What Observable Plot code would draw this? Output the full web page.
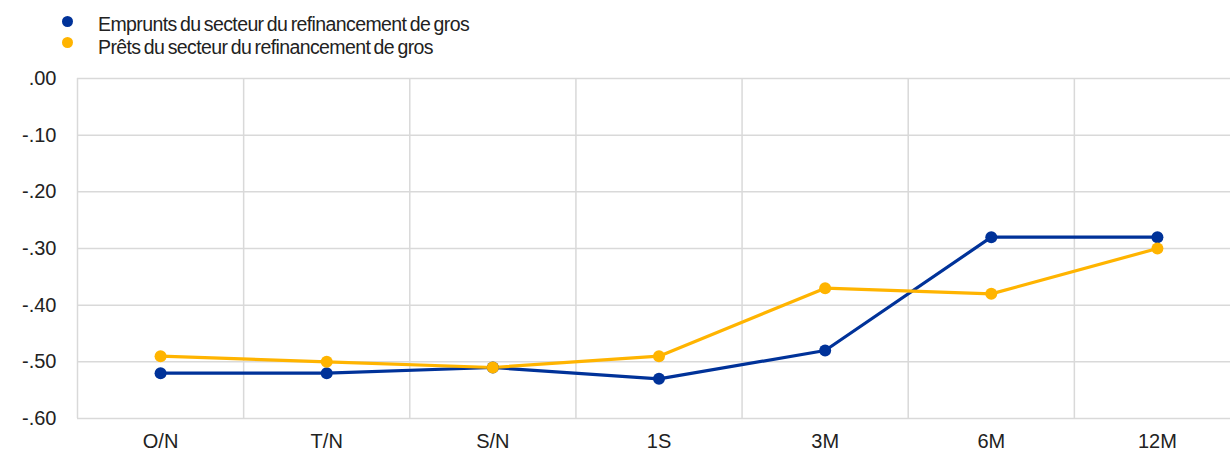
<!DOCTYPE html>
<html>
<head>
<meta charset="utf-8">
<script src="https://cdn.jsdelivr.net/npm/d3@7"></script>
<script src="https://cdn.jsdelivr.net/npm/@observablehq/plot@0.6"></script>
<style>
  html, body { margin: 0; padding: 0; background: #fff; }
  body { width: 1230px; height: 455px; overflow: hidden; font-family: "Liberation Sans", Arial, sans-serif; }
  #legend { position: relative; height: 62px; }
  .dot { position: absolute; width: 11px; height: 11px; border-radius: 50%; }
  .lbl { position: absolute; left: 98px; font-size: 19.5px; line-height: 20px; letter-spacing: -0.6px; word-spacing: -1.5px; color: #222; white-space: nowrap; }
  #chart svg { overflow: visible; }
</style>
</head>
<body>
<div id="legend"></div>
<div id="chart"></div>
<script>
const categories = ["O/N", "T/N", "S/N", "1S", "3M", "6M", "12M"];
const seriesNames = ["Emprunts du secteur du refinancement de gros", "Prêts du secteur du refinancement de gros"];
const emprunts = [-0.52, -0.52, -0.51, -0.53, -0.48, -0.28, -0.28];
const prets = [-0.49, -0.50, -0.51, -0.49, -0.37, -0.38, -0.30];
const colors = ["#003299", "#ffb400"];
const yTicks = [0, -0.1, -0.2, -0.3, -0.4, -0.5, -0.6];

const rows = [];
[emprunts, prets].forEach((vals, s) => vals.forEach((v, i) => rows.push({series: seriesNames[s], i, cat: categories[i], v})));

// legend
const legend = document.getElementById("legend");
seriesNames.forEach((name, s) => {
  const dot = document.createElement("span");
  dot.className = "dot";
  dot.style.background = colors[s];
  dot.style.left = "62px";
  dot.style.top = (s === 0 ? 15.5 : 36.5) + "px";
  legend.appendChild(dot);
  const t = document.createElement("span");
  t.className = "lbl";
  t.style.top = (s === 0 ? 14 : 37) + "px";
  t.textContent = name;
  legend.appendChild(t);
});

const idx = categories.map((c, i) => i);
const bounds = categories.map((c, i) => i - 0.5);
const fmt = d => (d < 0 ? "-" : "") + Math.abs(d).toFixed(2).replace(/^0/, "");

const chart = Plot.plot({
  width: 1230,
  height: 393,
  marginLeft: 77,
  marginRight: 0,
  marginTop: 16,
  marginBottom: 37,
  x: {domain: [-0.5, 6.5], range: [77, 1240], axis: null},
  y: {domain: [-0.6, 0], axis: null},
  color: {domain: seriesNames, range: colors},
  style: {fontFamily: "Liberation Sans, Arial, sans-serif", overflow: "visible"},
  marks: [
    Plot.ruleY(yTicks, {stroke: "#d9d9d9", strokeWidth: 1.5, strokeOpacity: 1}),
    Plot.ruleX(bounds, {stroke: "#d9d9d9", strokeWidth: 1.5, strokeOpacity: 1}),
    Plot.axisY(yTicks, {tickFormat: fmt, tickSize: 0, tickPadding: 21, fontSize: 20, fill: "#222", label: null}),
    Plot.axisX(idx, {tickFormat: i => categories[i], tickSize: 0, tickPadding: 15, fontSize: 20, fill: "#222", label: null}),
    Plot.line(rows, {x: "i", y: "v", z: "series", stroke: "series", strokeWidth: 3.2}),
    Plot.dot(rows, {x: "i", y: "v", fill: "series", r: 6})
  ]
});
document.getElementById("chart").appendChild(chart);
</script>
</body>
</html>
